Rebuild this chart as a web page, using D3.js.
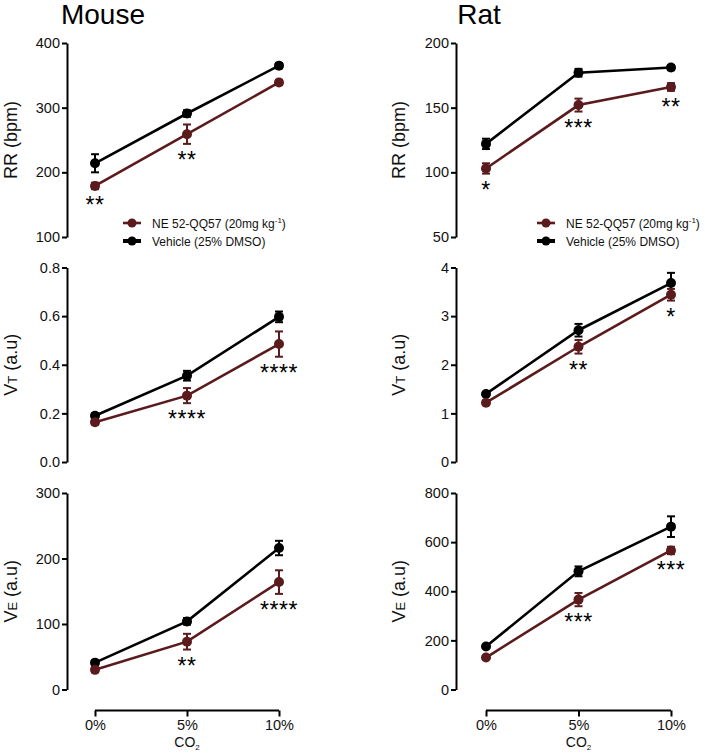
<!DOCTYPE html>
<html>
<head>
<meta charset="utf-8">
<script src="https://cdn.jsdelivr.net/npm/d3@7"></script>
<style>
html,body{margin:0;padding:0;background:#fff;}
svg{display:block;font-family:"Liberation Sans",Arial,Helvetica,sans-serif;}
</style>
</head>
<body>
<svg id="chart" width="705" height="753"></svg>
<script>
// ---------- DATA ----------
const categories = ["0%", "5%", "10%"];
const seriesNames = ["NE 52-QQ57 (20mg kg-1)", "Vehicle (25% DMSO)"];

// Mouse
const mouseRR_drug = [179, 259, 339];   const mouseRR_drugErr = [5, 15, 4];
const mouseRR_veh  = [214, 291, 365];   const mouseRR_vehErr  = [14, 5, 4];
const mouseRR_stars = ["**", "**", ""];
const mouseVT_drug = [0.164, 0.273, 0.485]; const mouseVT_drugErr = [0.01, 0.031, 0.052];
const mouseVT_veh  = [0.19, 0.355, 0.597];  const mouseVT_vehErr  = [0.01, 0.02, 0.022];
const mouseVT_stars = ["", "****", "****"];
const mouseVE_drug = [30, 73, 164];   const mouseVE_drugErr = [3, 12, 18];
const mouseVE_veh  = [41, 104, 216];  const mouseVE_vehErr  = [3, 5, 11];
const mouseVE_stars = ["", "**", "****"];

// Rat
const ratRR_drug = [103, 152, 166];   const ratRR_drugErr = [4, 5, 3];
const ratRR_veh  = [122, 177, 181];   const ratRR_vehErr  = [4, 3, 2];
const ratRR_stars = ["*", "***", "**"];
const ratVT_drug = [1.22, 2.37, 3.44]; const ratVT_drugErr = [0.04, 0.14, 0.12];
const ratVT_veh  = [1.40, 2.71, 3.68]; const ratVT_vehErr  = [0.04, 0.13, 0.21];
const ratVT_stars = ["", "**", "*"];
const ratVE_drug = [130, 366, 566];   const ratVE_drugErr = [6, 27, 15];
const ratVE_veh  = [175, 481, 663];   const ratVE_vehErr  = [6, 20, 42];
const ratVE_stars = ["", "***", "***"];

// Axis ticks
const mouseRR_ticks = [100, 200, 300, 400];
const mouseVT_ticks = [0.0, 0.2, 0.4, 0.6, 0.8];
const mouseVE_ticks = [0, 100, 200, 300];
const ratRR_ticks = [50, 100, 150, 200];
const ratVT_ticks = [0, 1, 2, 3, 4];
const ratVE_ticks = [0, 200, 400, 600, 800];

// ---------- STYLE / LAYOUT ----------
const colDrug = "#5b1a1b";
const colVeh = "#000000";
const svg = d3.select("#chart");

const cols = [
  {title: "Mouse", titleX: 103, axisX: 67, xRange: [95, 279], labelX: 17},
  {title: "Rat", titleX: 479, axisX: 456, xRange: [486, 671], labelX: 405}
];
const rows = [
  {y: [237, 43], main: "RR (bpm)", sub: null},
  {y: [462, 267.5], main: "V", sub: "T"},
  {y: [689.5, 493], main: "V", sub: "E"}
];

const panels = [
  {c: 0, r: 0, ticks: mouseRR_ticks, fmt: d3.format("d"), drug: mouseRR_drug, dErr: mouseRR_drugErr, veh: mouseRR_veh, vErr: mouseRR_vehErr, stars: mouseRR_stars, legend: true},
  {c: 0, r: 1, ticks: mouseVT_ticks, fmt: d3.format(".1f"), drug: mouseVT_drug, dErr: mouseVT_drugErr, veh: mouseVT_veh, vErr: mouseVT_vehErr, stars: mouseVT_stars},
  {c: 0, r: 2, ticks: mouseVE_ticks, fmt: d3.format("d"), drug: mouseVE_drug, dErr: mouseVE_drugErr, veh: mouseVE_veh, vErr: mouseVE_vehErr, stars: mouseVE_stars, xaxis: true},
  {c: 1, r: 0, ticks: ratRR_ticks, fmt: d3.format("d"), drug: ratRR_drug, dErr: ratRR_drugErr, veh: ratRR_veh, vErr: ratRR_vehErr, stars: ratRR_stars, legend: true},
  {c: 1, r: 1, ticks: ratVT_ticks, fmt: d3.format("d"), drug: ratVT_drug, dErr: ratVT_drugErr, veh: ratVT_veh, vErr: ratVT_vehErr, stars: ratVT_stars},
  {c: 1, r: 2, ticks: ratVE_ticks, fmt: d3.format("d"), drug: ratVE_drug, dErr: ratVE_drugErr, veh: ratVE_veh, vErr: ratVE_vehErr, stars: ratVE_stars, xaxis: true}
];

// Titles
cols.forEach(c => {
  svg.append("text").attr("x", c.titleX).attr("y", 24)
    .attr("text-anchor", "middle").attr("font-size", 28).attr("fill", "#000").text(c.title);
});

panels.forEach(p => {
  const col = cols[p.c], row = rows[p.r];
  const x = d3.scalePoint().domain(categories).range(col.xRange);
  const y = d3.scaleLinear().domain([p.ticks[0], p.ticks[p.ticks.length - 1]]).range(row.y);
  const g = svg.append("g");

  // y axis
  const ax = g.append("g").attr("transform", `translate(${col.axisX},0)`)
    .call(d3.axisLeft(y).tickValues(p.ticks).tickFormat(p.fmt).tickSize(5).tickPadding(2).tickSizeOuter(0));
  ax.select(".domain").attr("stroke", "#000").attr("stroke-width", 2);
  ax.selectAll(".tick line").attr("stroke", "#000").attr("stroke-width", 2);
  ax.selectAll(".tick text").attr("font-size", 14.5).attr("fill", "#111")
    .attr("font-family", "'Liberation Sans',Arial,sans-serif");

  // y label
  const cy = (row.y[0] + row.y[1]) / 2;
  const lab = g.append("text")
    .attr("transform", `translate(${col.labelX},${cy}) rotate(-90)`)
    .attr("text-anchor", "middle").attr("font-size", 18).attr("fill", "#111");
  if (row.sub) {
    lab.append("tspan").text(row.main);
    lab.append("tspan").attr("font-size", 13).text(row.sub);
    lab.append("tspan").text(" (a.u)");
  } else {
    lab.text(row.main);
  }

  // series
  const series = [
    {vals: p.veh, err: p.vErr, color: colVeh},
    {vals: p.drug, err: p.dErr, color: colDrug}
  ];
  series.forEach(s => {
    const line = d3.line().x((d, i) => x(categories[i])).y(d => y(d));
    g.append("path").datum(s.vals).attr("d", line)
      .attr("fill", "none").attr("stroke", s.color).attr("stroke-width", 2.6);
    s.vals.forEach((v, i) => {
      const cx = x(categories[i]);
      const y1 = y(v + s.err[i]), y0 = y(v - s.err[i]);
      g.append("line").attr("x1", cx).attr("x2", cx).attr("y1", y1).attr("y2", y0)
        .attr("stroke", s.color).attr("stroke-width", 2);
      [y1, y0].forEach(yy => g.append("line").attr("x1", cx - 4).attr("x2", cx + 4)
        .attr("y1", yy).attr("y2", yy).attr("stroke", s.color).attr("stroke-width", 2));
      g.append("circle").attr("cx", cx).attr("cy", y(v)).attr("r", 5).attr("fill", s.color);
    });
  });

  // significance stars below drug points
  p.stars.forEach((st, i) => {
    if (!st) return;
    const cyStar = y(p.drug[i] - p.dErr[i]) + 12;
    g.append("text").attr("x", x(categories[i])).attr("y", cyStar + 12)
      .attr("text-anchor", "middle").attr("font-size", 23).attr("letter-spacing", 0.5)
      .attr("fill", "#000").text(st);
  });

  // legend
  if (p.legend) {
    const lx = col.axisX + (p.c === 0 ? 56 : 81);
    const leg = [{name: seriesNames[0], color: colDrug}, {name: seriesNames[1], color: colVeh}];
    leg.forEach((l, k) => {
      const ly = 223 + k * 18;
      g.append("line").attr("x1", lx).attr("x2", lx + 18).attr("y1", ly).attr("y2", ly)
        .attr("stroke", l.color).attr("stroke-width", k === 1 ? 4 : 2.6);
      g.append("circle").attr("cx", lx + 9).attr("cy", ly).attr("r", 4.5).attr("fill", l.color);
      const t = g.append("text").attr("x", lx + 29).attr("y", ly + 4.5)
        .attr("font-size", 12).attr("fill", "#111");
      if (k === 0) {
        t.append("tspan").text("NE 52-QQ57 (20mg kg");
        t.append("tspan").attr("font-size", 8).attr("dy", -5).text("-1");
        t.append("tspan").attr("dy", 5).text(")");
      } else {
        t.text(l.name);
      }
    });
  }

  // x axis
  if (p.xaxis) {
    const xa = g.append("g").attr("transform", `translate(0,710.5)`)
      .call(d3.axisBottom(x).tickSize(6).tickPadding(3).tickSizeOuter(0));
    xa.select(".domain").attr("stroke", "#000").attr("stroke-width", 2)
      .attr("d", `M${col.xRange[0]},0H${col.xRange[1]}`);
    xa.selectAll(".tick line").attr("stroke", "#000").attr("stroke-width", 2);
    xa.selectAll(".tick text").attr("font-size", 14.5).attr("fill", "#111")
      .attr("font-family", "'Liberation Sans',Arial,sans-serif");
    const co = g.append("text").attr("x", (col.xRange[0] + col.xRange[1]) / 2).attr("y", 747)
      .attr("text-anchor", "middle").attr("font-size", 14).attr("fill", "#111");
    co.append("tspan").text("CO");
    co.append("tspan").attr("font-size", 8).attr("dy", 3).text("2");
  }
});
</script>
</body>
</html>
